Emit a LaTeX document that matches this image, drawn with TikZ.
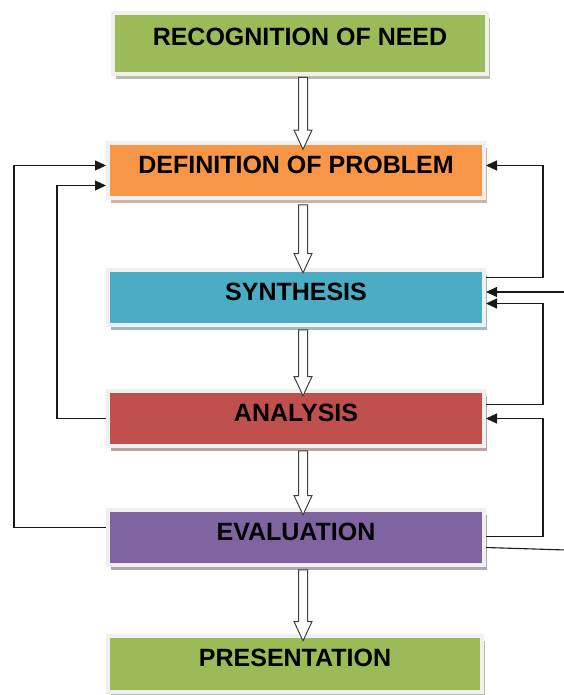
\documentclass[tikz,border=0pt]{standalone}
\usepackage{fontspec}
\setsansfont{Liberation Sans}
\usepackage{tikz}
\usetikzlibrary{positioning,shapes.arrows,shadows,arrows.meta}

\definecolor{needgreen}{HTML}{9BBB59}
\definecolor{probgold}{HTML}{F79646}
\definecolor{synthblue}{HTML}{4BACC6}
\definecolor{anared}{HTML}{C0504D}
\definecolor{evalpurple}{HTML}{8064A2}

\tikzset{
  stagebox/.style={rectangle, fill=#1, draw=black!6, line width=4pt,
    minimum width=376pt, minimum height=55pt, inner sep=0pt,
    text height=18pt, text depth=13pt,
    font=\sffamily\bfseries\fontsize{25pt}{30pt}\selectfont,
    drop shadow={shadow xshift=3pt, shadow yshift=-5pt, fill=#1!60!black, opacity=0.45}},
  hollowarrow/.style={single arrow, draw=black!75, line width=1pt, fill=white,
    minimum height=#1, minimum width=17pt, inner sep=4pt,
    single arrow head extend=4.5pt, single arrow tip angle=50},
  fbline/.style={draw=black!90, line width=1.1pt},
  fb/.style={fbline, -{Triangle[length=11pt,width=10pt]}}
}

\begin{document}
\begin{tikzpicture}[x=1pt,y=-1pt,node distance=127pt,on grid]
  \useasboundingbox (0,0) rectangle (564,695);

  % stages
  \node[stagebox=needgreen, minimum width=374pt, minimum height=61pt] (need) at (300,43.5) {RECOGNITION OF NEED};
  \node[stagebox=probgold] (defn) [below=of need, xshift=-4pt] {DEFINITION OF PROBLEM};
  \node[stagebox=synthblue] (synth) [below=of defn] {SYNTHESIS};
  \node[stagebox=anared] (anal) [below=121pt of synth] {ANALYSIS};
  \node[stagebox=evalpurple] (eval) [below=119pt of anal] {EVALUATION};
  \node[stagebox=needgreen, minimum width=374pt, minimum height=56pt] (present) [below=126.5pt of eval, xshift=-1pt] {PRESENTATION};

  % main flow
  \path ([xshift=3pt]need.south) -- ([xshift=7pt]defn.north) node[midway, sloped, hollowarrow=72pt] (a1) {};
  \path ([xshift=7pt]defn.south) -- ([xshift=7pt]synth.north) node[midway, sloped, hollowarrow=68pt] (a2) {};
  \path ([xshift=7pt]synth.south) -- ([xshift=7pt]anal.north) node[midway, sloped, hollowarrow=66pt] (a3) {};
  \path ([xshift=7pt]anal.south) -- ([xshift=7pt]eval.north) node[midway, sloped, hollowarrow=64pt] (a4) {};
  \path ([xshift=7pt]eval.south) -- ([xshift=8pt]present.north) node[midway, sloped, hollowarrow=71pt] (a5) {};

  % feedback on the left
  \draw[fb] ([yshift=10pt]eval.west) -- ++(-92,0) |- ([yshift=5pt]defn.west);
  \draw[fb] (anal.west) -- ++(-49,0) |- ([yshift=-15pt]defn.west);

  % feedback on the right
  \coordinate (offS) at (566,292);
  \coordinate (offE) at (566,550);
  \draw[fb] ([yshift=20pt]synth.east) -- ++(57,0) |- ([yshift=5pt]defn.east);
  \draw[fb] ([yshift=14pt]anal.east) -- ++(57,0) |- ([yshift=-6pt]synth.east);
  \draw[fb] ([yshift=1pt]eval.east) -- ++(57,0) |- (anal.east);
  \draw[fb] (offS) -- (offS -| synth.east);
  \draw[fbline] ([yshift=-10pt]eval.east) -- (offE);
\end{tikzpicture}
\end{document}
